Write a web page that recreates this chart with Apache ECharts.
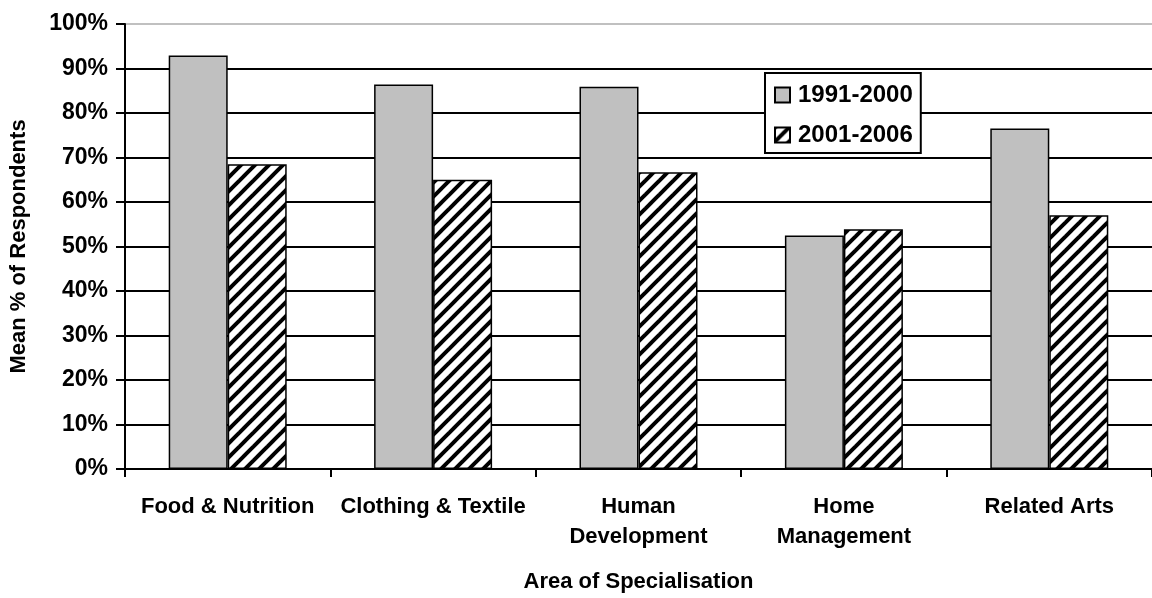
<!DOCTYPE html>
<html>
<head>
<meta charset="utf-8">
<script src="https://cdn.jsdelivr.net/npm/echarts@6/dist/echarts.min.js"></script>
<style>
html,body{margin:0;padding:0;background:#fff;}
#chart{width:1152px;height:598px;}
</style>
</head>
<body>
<div id="chart"></div>
<script>
const categories = ['Food & Nutrition', 'Clothing & Textile', 'Human\nDevelopment', 'Home\nManagement', 'Related Arts'];
const seriesNames = ['1991-2000', '2001-2006'];
const values1991 = [92.9, 86.4, 85.9, 52.5, 76.5];
const values2001 = [68.5, 65.0, 66.7, 53.9, 57.0];
const yTicks = [0, 10, 20, 30, 40, 50, 60, 70, 80, 90, 100];

function makeHatch() {
  const s = 14;
  const c = document.createElement('canvas');
  c.width = s; c.height = s;
  const g = c.getContext('2d');
  g.fillStyle = '#fff';
  g.fillRect(0, 0, s, s);
  g.strokeStyle = '#000';
  g.lineWidth = 4;
  [0, s, 2 * s].forEach(function (n) {
    g.beginPath();
    g.moveTo(n + 3, -3);
    g.lineTo(-3, n + 3);
    g.stroke();
  });
  return c;
}
const hatch = makeHatch();

const fontFam = '"Liberation Sans", Arial, sans-serif';
const chart = echarts.init(document.getElementById('chart'), null, {renderer: 'canvas'});
const gridColors = yTicks.map(function (v) { return v === 100 ? '#c0c0c0' : '#000'; });

chart.setOption({
  backgroundColor: '#fff',
  animation: false,
  grid: {left: 124, top: 24, width: 1035, height: 448, containLabel: false},
  legend: {
    orient: 'vertical',
    left: 765, top: 73,
    padding: [10, 8, 6, 9],
    itemGap: 16,
    itemWidth: 15, itemHeight: 15,
    borderColor: '#000', borderWidth: 2,
    backgroundColor: '#fff',
    icon: 'rect',
    textStyle: {fontFamily: fontFam, fontWeight: 'bold', fontSize: 24, color: '#000', lineHeight: 24, padding: [0, 0, 0, 3]},
    data: seriesNames
  },
  xAxis: {
    type: 'category',
    data: categories,
    name: 'Area of Specialisation',
    nameLocation: 'middle',
    nameGap: 102,
    nameTextStyle: {fontFamily: fontFam, fontWeight: 'bold', fontSize: 22, color: '#000'},
    axisLine: {lineStyle: {color: '#000', width: 2}},
    axisTick: {show: true, length: 8, alignWithLabel: false, lineStyle: {color: '#000', width: 2}},
    axisLabel: {interval: 0, margin: 23, fontFamily: fontFam, fontWeight: 'bold', fontSize: 22, color: '#000', lineHeight: 30},
    splitLine: {show: false}
  },
  yAxis: {
    type: 'value',
    min: 0, max: 100, interval: 10,
    name: 'Mean % of Respondents',
    nameLocation: 'middle',
    nameGap: 95,
    nameTextStyle: {fontFamily: fontFam, fontWeight: 'bold', fontSize: 22, color: '#000'},
    axisLine: {show: true, lineStyle: {color: '#000', width: 2}},
    axisTick: {show: true, length: 9, lineStyle: {color: '#000', width: 2}},
    axisLabel: {margin: 17, fontFamily: fontFam, fontWeight: 'bold', fontSize: 23, color: '#000', formatter: '{value}%'},
    splitLine: {show: true, lineStyle: {color: gridColors, width: 2}}
  },
  series: [
    {
      name: seriesNames[0], type: 'bar', data: values1991,
      barWidth: 59, barGap: '0%',
      itemStyle: {color: '#c0c0c0', borderColor: '#000', borderWidth: 1.5}
    },
    {
      name: seriesNames[1], type: 'bar', data: values2001,
      barWidth: 59, barGap: '0%',
      itemStyle: {color: {image: hatch, repeat: 'repeat'}, borderColor: '#000', borderWidth: 1.5}
    }
  ]
});
</script>
</body>
</html>
